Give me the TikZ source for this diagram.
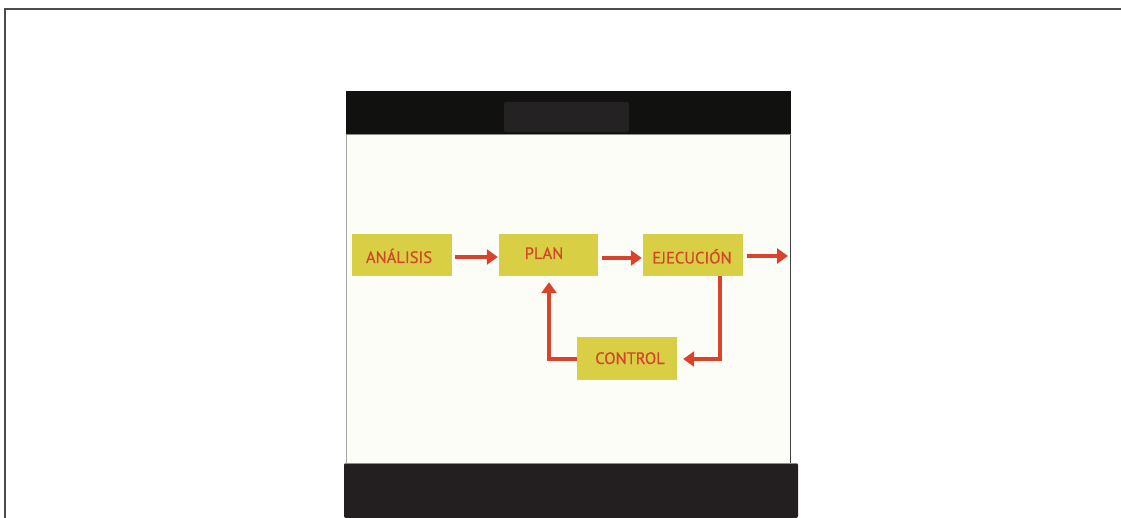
\documentclass[tikz,border=0pt]{standalone}
\usepackage{fontspec}
\setmainfont{PT Sans}[FakeBold=0.6]
\usetikzlibrary{arrows.meta}
\definecolor{boxyellow}{HTML}{D8CF45}
\definecolor{arrowred}{HTML}{D9432B}
\definecolor{textred}{HTML}{D4452A}
\definecolor{barblack}{HTML}{111210}
\definecolor{bardark}{HTML}{231F20}
\definecolor{innerdark}{HTML}{252223}
\definecolor{panelbg}{HTML}{FDFDF8}
\tikzset{
  stagebox/.style={fill=boxyellow, draw=none, minimum width=100pt, minimum height=42pt, inner sep=0pt},
  stagetext/.style={text=textred, font=\fontsize{16.5}{16.5}\selectfont, inner sep=0pt, anchor=base},
  flow/.style={draw=arrowred, line width=4.5pt, -{Triangle[length=11pt,width=15pt]}},
}
\begin{document}
\begin{tikzpicture}[x=1pt,y=-1pt]
\useasboundingbox (0,0) rectangle (1121,518);
\fill[white] (0,0) rectangle (1121,518);
% outer frame
\draw[line width=1.5pt, color=black!70] (5,518) -- (5,9) -- (1121,9);
% panel
\fill[panelbg] (346,134) rectangle (791,463);
\draw[line width=1pt, color=black!35] (346.5,134) -- (346.5,463);
\draw[line width=1.2pt, color=black!75] (790.5,134) -- (790.5,463);
% top bar
\fill[barblack] (346,91) rectangle (791,134);
\fill[innerdark, rounded corners=2pt] (504,102) rectangle (629,132);
\draw[line width=0.8pt, color=black!45] (346,134.5) -- (791,134.5);
% bottom bar
\fill[bardark, rounded corners=2pt] (344,518) -- (344,463) -- (798,463) -- (798,518) -- cycle;
\draw[line width=0.8pt, color=black!45] (345,463) -- (797,463);
% boxes
\node[stagebox] (ana) at (402,255) {};
\node[stagebox, minimum width=99pt] (plan) at (548.5,255) {};
\node[stagebox] (eje) at (693,255) {};
\node[stagebox] (ctl) at (627,358.5) {};
% labels
\node[stagetext] (anat) at (399,263) {ANÁLISIS};
\node[stagetext] (plant) at (544,259) {PLAN};
\node[stagetext] (ejet) at (692,263.5) {EJECUCIÓN};
\node[stagetext] (ctlt) at (630,364) {CONTROL};
% connectors
\coordinate (outend) at (788,256);
\draw[flow] ([xshift=3pt,yshift=-2pt]ana.east) -- ([xshift=-1pt,yshift=-2pt]plan.west);
\draw[flow] ([xshift=4pt,yshift=-3pt]plan.east) -- ([xshift=-1pt,yshift=-3pt]eje.west);
\draw[flow] ([xshift=4pt,yshift=-1pt]eje.east) -- (outend);
\draw[flow] ([xshift=27pt]eje.south) |- ([xshift=6pt,yshift=-0.5pt]ctl.east);
\draw[flow] ([yshift=-0.5pt]ctl.west) -| ([xshift=0.5pt,yshift=-6pt]plan.south);
\end{tikzpicture}
\end{document}
